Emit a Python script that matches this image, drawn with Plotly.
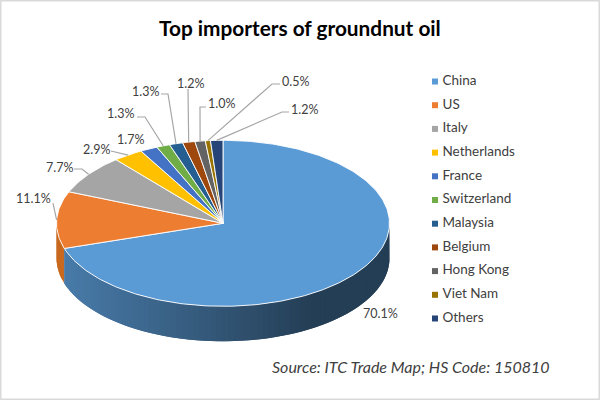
import numpy as np
import plotly.graph_objects as go

# ---- data -------------------------------------------------------------
categories = ["China", "US", "Italy", "Netherlands", "France", "Switzerland",
              "Malaysia", "Belgium", "Hong Kong", "Viet Nam", "Others"]
shares = [70.1, 11.1, 7.7, 2.9, 1.7, 1.3, 1.3, 1.2, 1.0, 0.5, 1.2]
colors = ["#5b9bd5", "#ed7d31", "#a5a5a5", "#ffc000", "#4472c4", "#70ad47",
          "#255e91", "#9e480e", "#636363", "#997300", "#264478"]

title = "Top importers of groundnut oil"
source = "Source: ITC Trade Map; HS Code: 150810"

# ---- layout constants (page pixels) -----------------------------------
CX, CY, RX, RY, DEPTH = 223.0, 223.3, 166.5, 83.0, 35.0
FONT = "Lato, Carlito, sans-serif"
TXT = "#404040"
# label centre for each slice
label_pos = [(380, 313), (33, 198), (59, 167), (96, 149), (130, 139), (120, 113),
             (145, 91), (190, 83), (221, 103), (295, 81), (304, 109)]
# leader line: label-side points, the last point lands on the slice rim
leaders = {1: [(53, 203)], 2: [(74, 169), (82, 169)], 3: [(111, 151)],
           5: [(137, 117), (145, 117)], 6: [(161, 94), (168, 94)], 7: [(188, 89)],
           8: [(206, 107), (200, 107)], 9: [(280, 84), (272, 84)],
           10: [(289, 112), (282, 112)]}

edges = np.concatenate([[0.0], np.cumsum(shares)]) / float(np.sum(shares)) * 2 * np.pi


def rim(theta):
    return CX + RX * np.sin(theta), CY - RY * np.cos(theta)


def wall_colour(x, base):
    """Side shading: lighter at the left of the pie, dark to the right."""
    t = np.clip((x - 60) / (310 - 60), 0, 1)
    f = 0.80 + (0.40 - 0.80) * t
    r, g, b = [int(base[i:i + 2], 16) for i in (1, 3, 5)]
    return f"rgb({r * f:.0f},{g * f:.0f},{b * f:.0f})"


fig = go.Figure()

# side walls (only the front half of the disc shows); each strip runs under the next
for i, base in reversed(list(enumerate(colors))):
    a0, a1 = max(edges[i], np.pi / 2), min(edges[i + 1], 3 * np.pi / 2)
    if a1 <= a0:
        continue
    n = max(2, int((a1 - a0) / np.radians(2.0)))
    steps = np.linspace(a0, a1, n + 1)
    for s0, s1 in zip(steps[:-1], steps[1:]):
        th = np.linspace(s0, min(s1 + (s1 - s0), a1), 5)
        x, y = rim(th)
        col = "#c8691f" if i == 1 else wall_colour(x.mean(), base)
        fig.add_trace(go.Scatter(
            x=np.concatenate([x, x[::-1]]),
            y=np.concatenate([y, y[::-1] + DEPTH]),
            mode="lines", fill="toself", fillcolor=col,
            line=dict(color=col, width=0),
            hoverinfo="skip", showlegend=False))

# top face
for i, (name, col) in enumerate(zip(categories, colors)):
    th = np.linspace(edges[i], edges[i + 1], max(3, int((edges[i + 1] - edges[i]) * 60)))
    x, y = rim(th)
    fig.add_trace(go.Scatter(
        x=np.concatenate([[CX], x, [CX]]), y=np.concatenate([[CY], y, [CY]]),
        mode="lines", fill="toself", fillcolor=col, name=name,
        line=dict(color="rgba(255,255,255,0.9)", width=1),
        hovertemplate=f"{name}: {shares[i]:.1f}%<extra></extra>", showlegend=False))

# legend: square keys and names, one row per category
fig.add_trace(go.Scatter(
    x=[435] * len(categories), y=categories, yaxis="y2", mode="markers",
    marker=dict(symbol="square", size=6, color=colors),
    hoverinfo="skip", showlegend=False))
fig.add_trace(go.Scatter(
    x=[442.5] * len(categories), y=categories, yaxis="y2", mode="text",
    text=categories, textposition="middle right",
    textfont=dict(family=FONT, size=13.5, color=TXT),
    hoverinfo="skip", showlegend=False))

# percentage labels
annotations = []
for i, v in enumerate(shares):
    annotations.append(dict(x=label_pos[i][0], y=label_pos[i][1], text=f"{v:.1f}%",
                            showarrow=False, xanchor="center", yanchor="middle",
                            font=dict(family=FONT, size=12.5, color=TXT)))
annotations.append(dict(x=300, y=27, text=f"<b>{title}</b>", showarrow=False,
                        xanchor="center", yanchor="middle",
                        font=dict(family=FONT, size=20.8, color="#000000")))
annotations.append(dict(x=270, y=366.5, text=f"<i>{source}</i>", showarrow=False,
                        xanchor="left", yanchor="middle",
                        font=dict(family=FONT, size=16, color=TXT)))

# leader lines and picture border
shapes = []
for i, pts in leaders.items():
    ex, ey = rim((edges[i] + edges[i + 1]) / 2)
    all_pts = pts + [(float(ex), float(ey))]
    path = "M " + " L ".join(f"{a:.1f} {b:.1f}" for a, b in all_pts)
    shapes.append(dict(type="path", path=path, xref="x", yref="y",
                       line=dict(color="#a6a6a6", width=1.2)))
shapes.append(dict(type="rect", xref="paper", yref="paper", x0=0, y0=0, x1=1, y1=1,
                   line=dict(color="#d9d9d9", width=3), fillcolor="rgba(0,0,0,0)"))

hidden = dict(visible=False, showgrid=False, zeroline=False, fixedrange=True)
fig.update_layout(
    width=600, height=400, autosize=False,
    margin=dict(l=0, r=0, t=0, b=0),
    paper_bgcolor="#ffffff", plot_bgcolor="#ffffff",
    xaxis=dict(range=[0, 600], **hidden),
    yaxis=dict(range=[400, 0], **hidden),
    yaxis2=dict(overlaying="y", type="category", categoryorder="array",
                categoryarray=categories, range=[13.44, -3.44], **hidden),
    annotations=annotations, shapes=shapes, showlegend=False,
)
fig.write_html("out.html", config={"displayModeBar": False},
               post_script="document.body.style.margin='0';document.body.style.overflow='hidden';")
